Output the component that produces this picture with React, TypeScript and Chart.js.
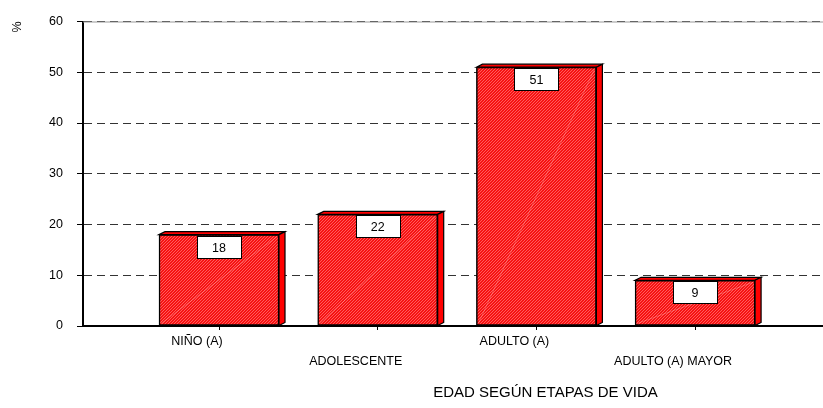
import React, { useEffect, useRef } from "react";
import { Chart, registerables } from "chart.js";

Chart.register(...registerables);

const categories = ["NIÑO (A)", "ADOLESCENTE", "ADULTO (A)", "ADULTO (A) MAYOR"];
const values = [18, 22, 51, 9];
const valueLabels = ["18", "22", "51", "9"];
const yTickValues = [0, 10, 20, 30, 40, 50, 60];
const yTitle = "%";
const xTitle = "EDAD SEGÚN ETAPAS DE VIDA";

const FONT = "'Liberation Sans', Arial, Helvetica, sans-serif";
const DEPTH_X = 6;
const DEPTH_Y = 3;

function makePattern(): CanvasPattern | string {
  const c = document.createElement("canvas");
  c.width = 3;
  c.height = 3;
  const g = c.getContext("2d");
  if (!g) return "#f41414";
  g.fillStyle = "#f61212";
  g.fillRect(0, 0, 3, 3);
  g.fillStyle = "#ff5c5c";
  g.fillRect(2, 0, 1, 1);
  g.fillRect(1, 1, 1, 1);
  g.fillRect(0, 2, 1, 1);
  return g.createPattern(c, "repeat") || "#f41414";
}

const topLine = {
  id: "topLine",
  beforeDatasetsDraw(chart: any) {
    const { ctx, chartArea } = chart;
    ctx.save();
    ctx.strokeStyle = "#999";
    ctx.lineWidth = 1;
    ctx.beginPath();
    ctx.moveTo(chartArea.left, chartArea.top + 0.5);
    ctx.lineTo(chartArea.right, chartArea.top + 0.5);
    ctx.stroke();
    ctx.restore();
  },
};

const bar3d = {
  id: "bar3d",
  afterDatasetsDraw(chart: any) {
    const ctx = chart.ctx;
    const meta = chart.getDatasetMeta(0);
    ctx.save();
    meta.data.forEach((el: any) => {
      const { x, y, base, width } = el.getProps(["x", "y", "base", "width"], true);
      const l = x - width / 2;
      const r = x + width / 2;
      ctx.strokeStyle = "rgba(255,180,180,0.45)";
      ctx.lineWidth = 0.8;
      ctx.beginPath();
      ctx.moveTo(l + 2, base - 2);
      ctx.lineTo(r - 2, y + 2);
      ctx.stroke();

      ctx.lineWidth = 1.2;
      ctx.strokeStyle = "#000";
      ctx.fillStyle = "#ff0000";
      ctx.beginPath();
      ctx.moveTo(l, y);
      ctx.lineTo(l + DEPTH_X, y - DEPTH_Y);
      ctx.lineTo(r + DEPTH_X, y - DEPTH_Y);
      ctx.lineTo(r, y);
      ctx.closePath();
      ctx.fill();
      ctx.stroke();
      ctx.beginPath();
      ctx.moveTo(r, y);
      ctx.lineTo(r + DEPTH_X, y - DEPTH_Y);
      ctx.lineTo(r + DEPTH_X, base - DEPTH_Y);
      ctx.lineTo(r, base);
      ctx.closePath();
      ctx.fill();
      ctx.stroke();
    });
    ctx.restore();
  },
};

const valueBoxes = {
  id: "valueBoxes",
  afterDraw(chart: any) {
    const ctx = chart.ctx;
    const meta = chart.getDatasetMeta(0);
    ctx.save();
    meta.data.forEach((el: any, i: number) => {
      const { x, y } = el.getProps(["x", "y"], true);
      const bw = 44;
      const bh = 22;
      const bx = Math.round(x - bw / 2) + 0.5;
      const by = Math.round(y + 1) + 0.5;
      ctx.fillStyle = "#fff";
      ctx.fillRect(bx, by, bw, bh);
      ctx.lineWidth = 1;
      ctx.strokeStyle = "#000";
      ctx.strokeRect(bx, by, bw, bh);
      ctx.fillStyle = "#000";
      ctx.font = `12.5px ${FONT}`;
      ctx.textAlign = "center";
      ctx.textBaseline = "middle";
      ctx.fillText(valueLabels[i], x, by + bh / 2 + 1);
    });
    const area = chart.chartArea;
    ctx.fillStyle = "#000";
    ctx.font = `15px ${FONT}`;
    ctx.textAlign = "center";
    ctx.textBaseline = "middle";
    ctx.fillText(xTitle, area.left + area.width * 0.625, 393);
    ctx.restore();
  },
};

export default function App() {
  const ref = useRef<HTMLCanvasElement | null>(null);

  useEffect(() => {
    document.body.style.margin = "0";
    const canvas = ref.current;
    if (!canvas) return;
    const pattern = makePattern();
    const chart = new Chart(canvas, {
      type: "bar",
      data: {
        datasets: [
          {
            data: categories.map((c, i) => ({ x: i + 1, y: values[i] })),
            backgroundColor: pattern as any,
            borderColor: "#000",
            borderWidth: 1.5,
            borderSkipped: false,
            barThickness: 120,
          },
        ],
      },
      options: {
        animation: false,
        responsive: false,
        events: [],
        layout: { padding: { top: 14, left: 0, right: 0, bottom: 0 } },
        plugins: {
          legend: { display: false },
          tooltip: { enabled: false },
          title: { display: false },
        },
        scales: {
          x: {
            type: "linear",
            offset: false,
            min: 0.143,
            max: 4.806,
            z: 1,
            afterFit: (s: any) => {
              s.height = 82;
            },
            afterBuildTicks: (s: any) => {
              s.ticks = categories.map((_, i) => ({ value: i + 1 }));
            },
            border: { display: true, color: "#000", width: 2 },
            grid: {
              display: true,
              offset: false,
              drawOnChartArea: false,
              drawTicks: true,
              tickLength: 4,
              color: "#000",
            },
            ticks: {
              autoSkip: false,
              maxRotation: 0,
              minRotation: 0,
              padding: 2,
              labelOffset: -22,
              color: "#000",
              font: { family: FONT, size: 12.5, lineHeight: 1.6 },
              callback: (v: any) => {
                const i = Math.round(Number(v)) - 1;
                const name = categories[i] ?? "";
                return i % 2 === 0 ? [name] : ["", name];
              },
            },
          },
          y: {
            min: 0,
            max: 60,
            z: 1,
            afterFit: (s: any) => {
              s.width = 83;
            },
            afterBuildTicks: (s: any) => {
              s.ticks = yTickValues.map((v) => ({ value: v }));
            },
            border: { display: true, color: "#000", width: 2, dash: [8, 5] },
            grid: {
              display: true,
              color: "#333",
              lineWidth: 1,
              drawTicks: true,
              tickLength: 6,
              tickColor: "#000",
              tickBorderDash: [],
            } as any,
            title: {
              display: true,
              text: yTitle,
              align: "end",
              color: "#000",
              font: { family: FONT, size: 12.5 },
              padding: { top: 10, bottom: 0 },
            },
            ticks: {
              padding: 14,
              color: "#000",
              font: { family: FONT, size: 12.5 },
            },
          },
        },
      },
      plugins: [topLine, bar3d, valueBoxes],
    } as any);
    return () => chart.destroy();
  }, []);

  return (
    <div style={{ width: 823, height: 408 }}>
      <canvas ref={ref} width={823} height={408} style={{ display: "block" }} />
    </div>
  );
}
